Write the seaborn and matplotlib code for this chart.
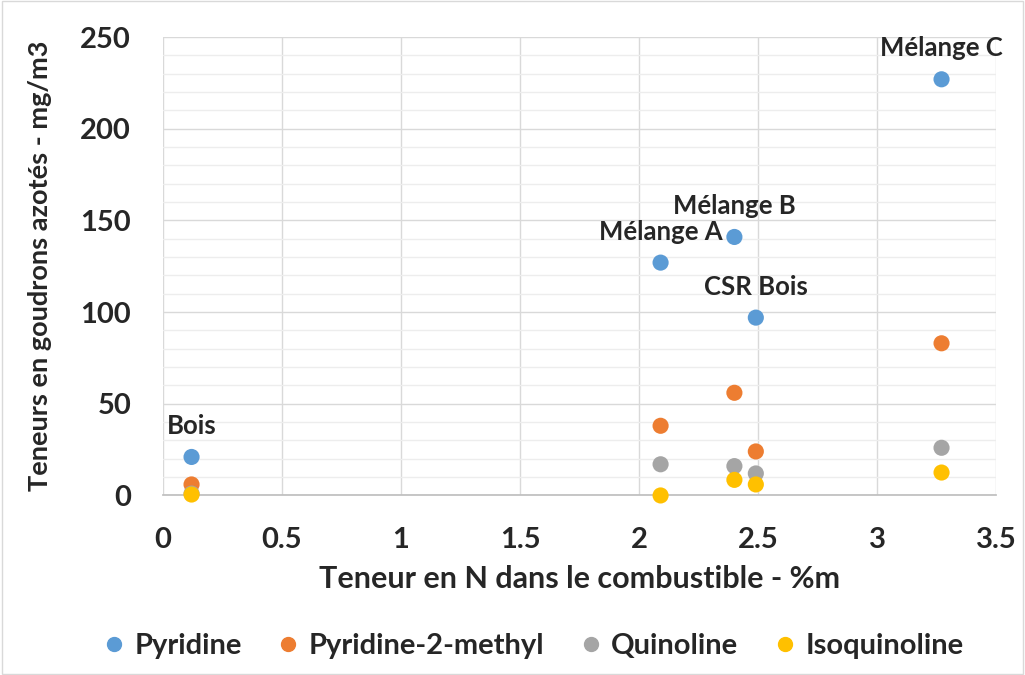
import matplotlib.pyplot as plt
import pandas as pd
import seaborn as sns
from matplotlib.patches import Rectangle

sns.set_theme(style='white')
plt.rcParams['font.family'] = ['Lato', 'DejaVu Sans']

# data
fuels = ['Bois', 'Mélange A', 'Mélange B', 'CSR Bois', 'Mélange C']
n_content = [0.12, 2.09, 2.40, 2.49, 3.27]
pyridine = [21, 127, 141, 97, 227]
pyridine_2_methyl = [6, 38, 56, 24, 83]
quinoline = [1, 17, 16, 12, 26]
isoquinoline = [0.5, 0, 8.5, 6, 12.5]

series_names = ['Pyridine', 'Pyridine-2-methyl', 'Quinoline', 'Isoquinoline']
colors = ['#5B9BD5', '#ED7D31', '#A5A5A5', '#FFC000']

rows = []
for name, vals in zip(series_names,
                      [pyridine, pyridine_2_methyl, quinoline, isoquinoline]):
    for x, y in zip(n_content, vals):
        rows.append({'N': x, 'teneur': y, 'compose': name})
df = pd.DataFrame(rows)

fig = plt.figure(figsize=(10.25, 6.75), dpi=100)
ax = fig.add_axes([0.159, 0.266, 0.813, 0.679])

sns.scatterplot(data=df, x='N', y='teneur', hue='compose',
                hue_order=series_names, palette=colors, s=135,
                edgecolor='none', ax=ax, legend=False, zorder=3,
                clip_on=False)

# labels above the pyridine points
for name, x, y in zip(fuels, n_content, pyridine):
    ax.annotate(name, (x, y), xytext=(0, 31), textcoords='offset pixels',
                ha='center', va='center', fontsize=18.5, fontweight='bold')

ax.set_xlim(0, 3.5)
ax.set_ylim(0, 250)
ax.set_xticks([0, 0.5, 1, 1.5, 2, 2.5, 3, 3.5])
ax.set_xticklabels(['0', '0.5', '1', '1.5', '2', '2.5', '3', '3.5'])
ax.set_yticks([0, 50, 100, 150, 200, 250])
ax.set_yticks(range(0, 251, 10), minor=True)
ax.grid(True, which='major', color='#D9D9D9', linewidth=1)
ax.grid(True, which='minor', axis='y', color='#EDEDED', linewidth=1)
ax.set_axisbelow(True)
for side in ['top', 'right', 'left']:
    ax.spines[side].set_visible(False)
ax.spines['bottom'].set_color('#BFBFBF')
ax.tick_params(axis='both', which='both', length=0, labelsize=21)
ax.tick_params(axis='x', pad=23)
ax.tick_params(axis='y', pad=23)
for lab in ax.get_xticklabels() + ax.get_yticklabels():
    lab.set_fontweight('bold')

ax.set_xlabel('Teneur en N dans le combustible - %m', fontsize=22,
              fontweight='bold', labelpad=8)
ax.set_ylabel('Teneurs en goudrons azotés - mg/m3', fontsize=19.5,
              fontweight='bold', labelpad=8)
ax.yaxis.set_label_coords(-0.133, 0.5)

handles = [plt.Line2D([], [], marker='o', linestyle='', color=c,
                      markersize=10) for c in colors]
fig.legend(handles, series_names, loc='center', bbox_to_anchor=(0.517, 0.043),
           ncol=4, frameon=False, handletextpad=0.1, columnspacing=1.0,
           handlelength=1.2, prop={'size': 21, 'weight': 'bold'})

fig.patches.append(Rectangle((0.002, 0.002), 0.996, 0.996,
                             transform=fig.transFigure, fill=False,
                             edgecolor='#D9D9D9', linewidth=1))

plt.savefig('out.png', dpi=100)
